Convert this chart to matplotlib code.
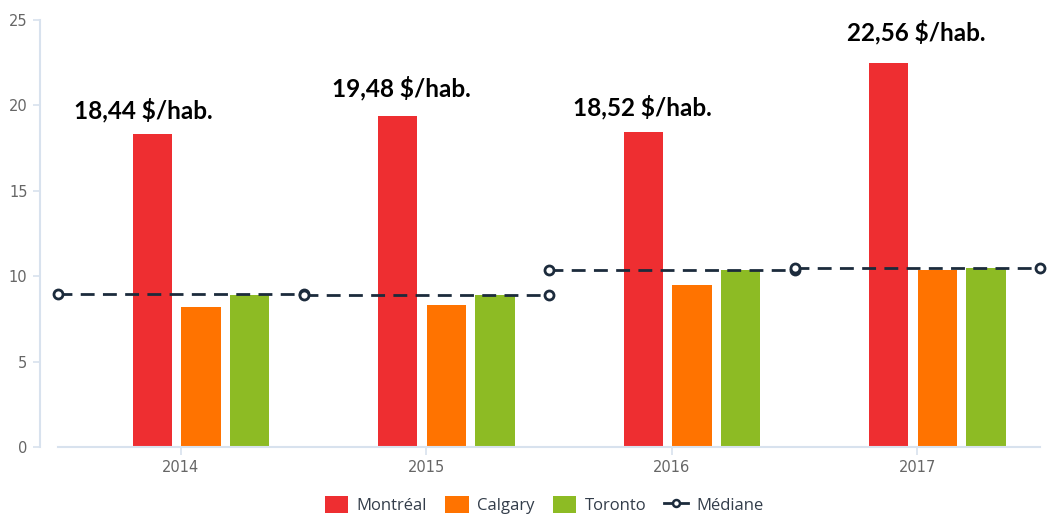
import matplotlib
matplotlib.use("Agg")
import matplotlib.pyplot as plt
from matplotlib.patches import Patch
from matplotlib.lines import Line2D
import numpy as np

# ---------------------------------------------------------------------------
# Data
# ---------------------------------------------------------------------------
years = ["2014", "2015", "2016", "2017"]
montreal = [18.35, 19.38, 18.45, 22.48]
calgary = [8.2, 8.3, 9.48, 10.36]
toronto = [8.9, 8.9, 10.36, 10.48]
mediane = [8.96, 8.9, 10.36, 10.48]
labels = ["18,44 $/hab.", "19,48 $/hab.", "18,52 $/hab.", "22,56 $/hab."]
label_y = [19.73, 21.02, 19.9, 24.3]
label_dx = [-0.154, -0.103, -0.121, -0.005]

RED = "#ee2e31"
ORANGE = "#ff7300"
GREEN = "#8dbb24"
NAVY = "#1c2b3c"
AXIS = "#d8e2ee"
TICK = "#666666"

plt.rcParams["font.family"] = ["DejaVu Sans"]

fig = plt.figure(figsize=(10.52, 5.14), dpi=100)
ax = fig.add_axes([58 / 1052, 67 / 514, 982 / 1052, 427 / 514])

x = np.arange(len(years))
w = 0.16
off = 0.198
shift = 0.082  # group sits a bit right of the tick
ax.bar(x + shift - off, montreal, width=w, color=RED, zorder=2)
ax.bar(x + shift, calgary, width=w, color=ORANGE, zorder=2)
ax.bar(x + shift + off, toronto, width=w, color=GREEN, zorder=2)

# median segments spanning each category
for i, m in enumerate(mediane):
    ax.plot([i - 0.5, i + 0.5], [m, m], color=NAVY, lw=2.0,
            linestyle=(0, (5, 3)), marker="o", markersize=6.5,
            markerfacecolor="white", markeredgecolor=NAVY,
            markeredgewidth=2.0, zorder=3, clip_on=False)

for i, (t, yy) in enumerate(zip(labels, label_y)):
    ax.text(i + label_dx[i], yy, t, ha="center", va="center",
            fontsize=17.5, fontweight="bold", color="black",
            family=["Lato", "DejaVu Sans"])

ax.set_xlim(-0.5, 3.5)
ax.set_ylim(0, 25)
ax.set_xticks(x)
ax.set_xticklabels(years)
ax.set_yticks([0, 5, 10, 15, 20, 25])

for s in ["top", "right"]:
    ax.spines[s].set_visible(False)
ax.spines["left"].set_position(("outward", 13))
ax.spines["left"].set_color(AXIS)
ax.spines["left"].set_linewidth(1.5)
ax.spines["bottom"].set_color(AXIS)
ax.spines["bottom"].set_linewidth(1.5)
ax.tick_params(axis="y", colors=AXIS, labelcolor=TICK, labelsize=10.5,
               length=5, width=1.2, pad=4)
ax.tick_params(axis="x", colors=AXIS, labelcolor=TICK, labelsize=10.5,
               length=6, width=1.2, pad=3)

handles = [
    Patch(facecolor=RED, label="Montréal"),
    Patch(facecolor=ORANGE, label="Calgary"),
    Patch(facecolor=GREEN, label="Toronto"),
    Line2D([0], [0], color=NAVY, lw=2, marker="o", markersize=5,
           markerfacecolor="white", markeredgewidth=1.8, label="Médiane"),
]
leg = fig.legend(handles=handles, loc="center", bbox_to_anchor=(544 / 1052, 1 - 505 / 514),
                 ncol=4, frameon=False, handlelength=1.4,
                 handleheight=1.2, handletextpad=0.5, columnspacing=1.1,
                 prop={"family": ["Open Sans", "DejaVu Sans"], "size": 12})
for t in leg.get_texts():
    t.set_color("#333d4a")

fig.savefig("out.png", dpi=100, facecolor="white")
